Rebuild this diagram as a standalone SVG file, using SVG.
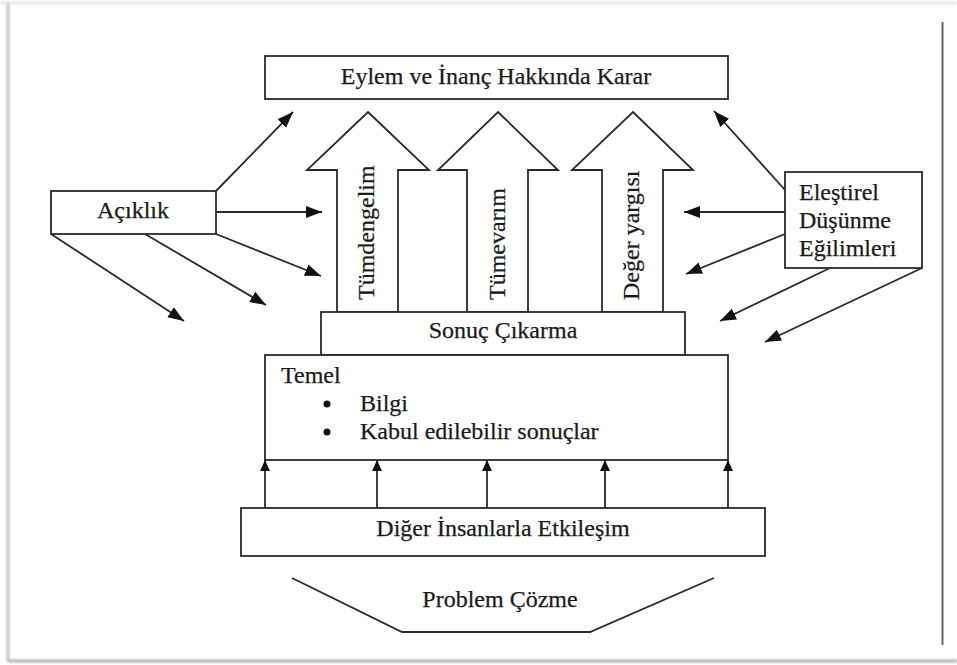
<svg xmlns="http://www.w3.org/2000/svg" width="957" height="665" viewBox="0 0 957 665">
  <defs>
    <marker id="head" markerUnits="userSpaceOnUse" markerWidth="17" markerHeight="13" refX="16" refY="6.5" orient="auto">
      <path d="M0,0.5 L16,6.5 L0,12.5 z" fill="#111"/>
    </marker>
    <marker id="headSmall" markerUnits="userSpaceOnUse" markerWidth="12" markerHeight="11" refX="11" refY="5.5" orient="auto">
      <path d="M0,0.5 L11,5.5 L0,10.5 z" fill="#111"/>
    </marker>
    <filter id="soft" x="-5%" y="-5%" width="110%" height="110%">
      <feGaussianBlur stdDeviation="1.2"/>
    </filter>
  </defs>
  <style>
    .box { fill: #fff; stroke: #2a2a2a; stroke-width: 1.8; }
    .shape { fill: #fff; stroke: #2a2a2a; stroke-width: 1.8; stroke-linejoin: miter; }
    .link { fill: none; stroke: #2a2a2a; stroke-width: 1.8; marker-end: url(#head); }
    .up { fill: none; stroke: #2a2a2a; stroke-width: 1.8; marker-end: url(#headSmall); }
    .t { font-family: 'Liberation Serif', 'DejaVu Serif', serif; font-size: 24px; fill: #1a1a1a; stroke: #1a1a1a; stroke-width: 0.25; }
    .c { text-anchor: middle; }
  </style>

  <!-- page with soft edge shadow -->
  <rect x="0" y="0" width="957" height="665" fill="#fff"/>
  <g filter="url(#soft)">
    <line x1="0" y1="3" x2="957" y2="3" stroke="#e6e6e6" stroke-width="3"/>
    <line x1="8" y1="3" x2="8" y2="662" stroke="#c4c4c4" stroke-width="3"/>
    <line x1="8" y1="661" x2="957" y2="661" stroke="#b0b0b0" stroke-width="3"/>
  </g>
  <line x1="942.5" y1="22" x2="942.5" y2="645" stroke="#666" stroke-width="2"/>

  <!-- connectors -->
  <g id="connectors">
    <!-- from Açıklık -->
    <line class="link" x1="216" y1="191" x2="293" y2="112"/>
    <line class="link" x1="216" y1="212" x2="322" y2="212"/>
    <line class="link" x1="216" y1="234" x2="321" y2="276"/>
    <line class="link" x1="145" y1="234" x2="266" y2="305"/>
    <line class="link" x1="51" y1="234" x2="184" y2="321"/>
    <!-- from Eleştirel Düşünme Eğilimleri -->
    <line class="link" x1="785" y1="190" x2="714" y2="111"/>
    <line class="link" x1="785" y1="212" x2="684" y2="212"/>
    <line class="link" x1="785" y1="234" x2="686" y2="274"/>
    <line class="link" x1="830" y1="268" x2="720" y2="321"/>
    <line class="link" x1="922" y1="268" x2="765" y2="342"/>
    <!-- from Diğer İnsanlarla Etkileşim up to Temel -->
    <line class="up" x1="265" y1="508" x2="265" y2="460"/>
    <line class="up" x1="377" y1="508" x2="377" y2="460"/>
    <line class="up" x1="487" y1="508" x2="487" y2="460"/>
    <line class="up" x1="605" y1="508" x2="605" y2="460"/>
    <line class="up" x1="728" y1="508" x2="728" y2="460"/>
  </g>

  <g id="karar">
    <rect class="box" x="265" y="56" width="463" height="43"/>
    <text class="t c" x="496" y="84">Eylem ve İnanç Hakkında Karar</text>
  </g>

  <g id="aciklik">
    <rect class="box" x="51" y="191" width="165" height="43"/>
    <text class="t c" x="133" y="218">Açıklık</text>
  </g>

  <g id="egilimler">
    <rect class="box" x="785" y="172" width="137" height="96"/>
    <text class="t" x="799" y="200">Eleştirel</text>
    <text class="t" x="799" y="228">Düşünme</text>
    <text class="t" x="799" y="256">Eğilimleri</text>
  </g>

  <g id="tumdengelim">
    <polygon class="shape" points="368,112 429,170 398,170 398,312 337,312 337,170 307,170"/>
    <text class="t" transform="translate(374,300) rotate(-90)">Tümdengelim</text>
  </g>

  <g id="tumevarim">
    <polygon class="shape" points="498,112 558,170 528,170 528,312 467,312 467,170 438,170"/>
    <text class="t" transform="translate(505,300) rotate(-90)">Tümevarım</text>
  </g>

  <g id="deger-yargisi">
    <polygon class="shape" points="633,112 693,170 663,170 663,312 602,312 602,170 572,170"/>
    <text class="t" transform="translate(639,300) rotate(-90)">Değer yargısı</text>
  </g>

  <g id="sonuc-cikarma">
    <rect class="box" x="321" y="312" width="364" height="43"/>
    <text class="t c" x="503" y="338">Sonuç Çıkarma</text>
  </g>

  <g id="temel">
    <rect class="box" x="265" y="355" width="463" height="105"/>
    <text class="t" x="281" y="383">Temel</text>
    <circle cx="327" cy="404" r="3.5" fill="#111"/>
    <text class="t" x="360" y="411">Bilgi</text>
    <circle cx="327" cy="432" r="3.5" fill="#111"/>
    <text class="t" x="360" y="439">Kabul edilebilir sonuçlar</text>
  </g>

  <g id="etkilesim">
    <rect class="box" x="241" y="508" width="524" height="48"/>
    <text class="t c" x="503" y="536">Diğer İnsanlarla Etkileşim</text>
  </g>

  <g id="problem-cozme">
    <polyline points="292,578 402,632 590,632 714,578" fill="none" stroke="#2a2a2a" stroke-width="1.8"/>
    <text class="t c" x="500" y="607">Problem Çözme</text>
  </g>
</svg>
